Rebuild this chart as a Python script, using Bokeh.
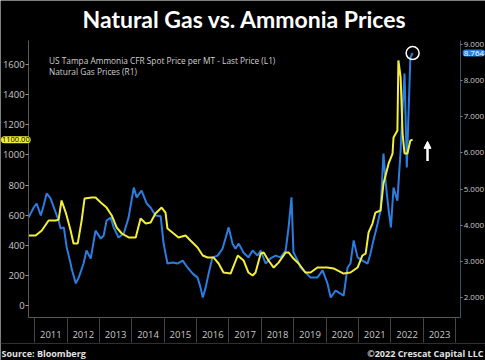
from bokeh.plotting import figure
from bokeh.models import (Range1d, LinearAxis, FixedTicker, NumeralTickFormatter, Label,
                          Legend, LegendItem, Arrow, NormalHead, Span)
from bokeh.embed import file_html
from bokeh.resources import INLINE

# ---------------- data ----------------
title_text = "Natural Gas vs. Ammonia Prices"
ammonia_label = "US Tampa Ammonia CFR Spot Price per MT - Last Price (L1)"
gas_label = "Natural Gas Prices (R1)"
source_text = "Source: Bloomberg"
copyright_text = "\u00a92022 Crescat Capital LLC"

years = list(range(2011, 2024))
year_labels = [str(y) for y in years]
left_ticks = [0, 200, 400, 600, 800, 1000, 1200, 1400, 1600]
right_ticks = [2, 3, 4, 5, 6, 7, 8, 9]

# Ammonia (USD per metric ton), time in decimal years
ammonia_t = [2010.81, 2011.03, 2011.22, 2011.43, 2011.65, 2011.74, 2011.83, 2011.96,
             2012.11, 2012.20, 2012.33, 2012.45, 2012.54, 2012.76, 2012.88, 2013.04,
             2013.22, 2013.38, 2013.53, 2013.69, 2013.90, 2014.12, 2014.27, 2014.43,
             2014.58, 2014.73, 2014.92, 2015.04, 2015.10, 2015.29, 2015.44, 2015.66,
             2015.81, 2016.03, 2016.19, 2016.34, 2016.52, 2016.68, 2016.83, 2017.05,
             2017.27, 2017.45, 2017.60, 2017.73, 2017.82, 2017.98, 2018.07, 2018.22,
             2018.38, 2018.53, 2018.75, 2018.84, 2018.99, 2019.15, 2019.36, 2019.52,
             2019.73, 2020.04, 2020.23, 2020.54, 2020.75, 2020.97, 2021.12, 2021.22,
             2021.31, 2021.43, 2021.52, 2021.68, 2021.77, 2021.93, 2022.05, 2022.08,
             2022.20, 2022.23, 2022.30, 2022.36, 2022.42, 2022.51, 2022.60, 2022.67]
ammonia_v = [465, 465, 498, 564, 564, 570, 697, 617,
             498, 412, 412, 564, 710, 717, 717, 684,
             650, 598, 518, 478, 452, 452, 577, 544,
             551, 611, 650, 617, 511, 478, 452, 465,
             432, 385, 332, 319, 319, 279, 219, 212,
             332, 299, 219, 199, 219, 345, 352, 299,
             252, 285, 352, 352, 312, 279, 219, 219,
             252, 252, 246, 212, 219, 252, 332, 345,
             485, 544, 617, 631, 810, 943, 1009, 1115,
             1162, 1627, 1514, 1142, 1009, 1009, 1096, 1100]

# Natural gas (USD per MMBtu)
gas_t = [2010.81, 2010.97, 2011.06, 2011.19, 2011.28, 2011.37, 2011.49, 2011.65,
         2011.74, 2011.80, 2011.90, 2011.99, 2012.11, 2012.14, 2012.27, 2012.36,
         2012.51, 2012.60, 2012.73, 2012.88, 2013.04, 2013.13, 2013.22, 2013.35,
         2013.44, 2013.59, 2013.75, 2013.90, 2014.06, 2014.15, 2014.30, 2014.46,
         2014.58, 2014.73, 2014.89, 2014.98, 2015.10, 2015.26, 2015.41, 2015.57,
         2015.72, 2015.88, 2016.03, 2016.12, 2016.19, 2016.28, 2016.37, 2016.49,
         2016.65, 2016.80, 2016.90, 2016.99, 2017.11, 2017.20, 2017.30, 2017.45,
         2017.60, 2017.73, 2017.88, 2017.98, 2018.13, 2018.28, 2018.44, 2018.59,
         2018.75, 2018.84, 2018.93, 2018.99, 2019.12, 2019.21, 2019.52, 2019.73,
         2019.89, 2020.04, 2020.14, 2020.29, 2020.44, 2020.54, 2020.66, 2020.75,
         2020.85, 2020.97, 2021.12, 2021.28, 2021.37, 2021.46, 2021.59, 2021.68,
         2021.77, 2021.84, 2021.93, 2022.00, 2022.08, 2022.20, 2022.30, 2022.36,
         2022.42, 2022.49, 2022.60, 2022.67]
gas_v = [4.21, 4.49, 4.60, 4.27, 4.55, 4.88, 4.74, 4.35,
         4.13, 3.91, 3.94, 3.38, 2.94, 2.80, 2.39, 2.55,
         2.94, 3.30, 3.08, 3.85, 3.63, 3.71, 4.13, 4.21,
         3.94, 3.66, 3.77, 4.21, 5.04, 4.77, 4.96, 4.60,
         4.49, 4.27, 4.25, 3.50, 2.94, 2.97, 2.94, 3.02,
         2.83, 2.66, 2.55, 2.28, 2.00, 2.28, 2.66, 3.11,
         3.16, 3.35, 3.66, 3.94, 3.49, 3.35, 3.49, 3.24,
         3.11, 3.30, 3.16, 3.30, 2.94, 3.08, 3.16, 3.11,
         3.30, 3.94, 4.77, 3.25, 3.02, 2.83, 2.55, 2.55,
         2.75, 2.39, 2.00, 2.19, 2.11, 2.05, 2.83, 2.94,
         3.58, 3.11, 3.02, 2.94, 3.22, 3.58, 4.05, 4.41,
         5.98, 5.15, 4.41, 3.94, 5.04, 4.68, 6.07, 7.26,
         8.20, 5.60, 8.64, 8.764]

# ---------------- layout / styling ----------------
YELLOW = "#f2ee3a"
BLUE = "#2b7de0"
TICK_TEXT = "#c8c8c8"
AXIS_COL = "#5a5a5a"
FONT = "Open Sans"

# plotting box (where the axes sit) in data units
BX0, BX1 = 2010.815, 2024.154
BY0, BY1 = -80, 1760
BG0, BG1 = 1.45, 9.11
# full canvas extent in data units (frame covers the whole canvas)
CX0, CX1 = 2009.945, 2024.92
CY0, CY1 = -365.1, 2024.9
CG0, CG1 = 0.257, 10.217

p = figure(width=485, height=360, output_backend="svg", toolbar_location=None,
           x_range=Range1d(CX0, CX1), y_range=Range1d(CY0, CY1),
           background_fill_color="black", border_fill_color="black",
           outline_line_color=None,
           min_border_left=0, min_border_right=0, min_border_top=0, min_border_bottom=0)
p.extra_y_ranges = {"ng": Range1d(CG0, CG1)}
p.grid.visible = False

# x axis: year labels centred between separator lines
xa = p.xaxis[0]
xa.fixed_location = BY0
xa.bounds = (BX0, BX1)
xa.ticker = FixedTicker(ticks=[y + 0.5 for y in years], minor_ticks=years + [years[-1] + 1])
xa.major_label_overrides = {y + 0.5: lab for y, lab in zip(years, year_labels)}
xa.major_tick_out = 0
xa.major_tick_in = 0
xa.major_tick_line_color = None
xa.minor_tick_out = 25
xa.minor_tick_in = 0
xa.minor_tick_line_color = "#444444"
xa.axis_line_color = AXIS_COL
xa.major_label_standoff = -12
xa.major_label_text_color = TICK_TEXT
xa.major_label_text_font_size = "9.5px"
xa.major_label_text_font = FONT

ya = p.yaxis[0]
ya.fixed_location = BX0
ya.bounds = (BY0, BY1)
ya.ticker = FixedTicker(ticks=left_ticks)
ya.axis_line_color = AXIS_COL
ya.major_tick_out = 3
ya.major_tick_in = 0
ya.minor_tick_out = 0
ya.minor_tick_in = 0
ya.major_tick_line_color = "#999999"
ya.major_label_standoff = 1
ya.major_label_text_color = TICK_TEXT
ya.major_label_text_font_size = "9.5px"
ya.major_label_text_font = FONT

ra = LinearAxis(y_range_name="ng", ticker=FixedTicker(ticks=right_ticks),
                formatter=NumeralTickFormatter(format="0.000"))
ra.fixed_location = BX1
ra.bounds = (BG0, BG1)
ra.axis_line_color = "#3d4d6a"
ra.major_tick_out = 2
ra.major_tick_in = 0
ra.minor_tick_out = 0
ra.minor_tick_in = 0
ra.major_tick_line_color = "#7a8aa8"
ra.major_label_standoff = 1
ra.major_label_text_color = TICK_TEXT
ra.major_label_text_font_size = "8px"
ra.major_label_text_font = FONT
p.add_layout(ra, "right")

# faint separator above the footer
p.add_layout(Span(location=-252, dimension="width", line_color="#333333", line_width=1))

# series
p.line(gas_t, gas_v, color=BLUE, line_width=2, y_range_name="ng")
p.line(ammonia_t, ammonia_v, color=YELLOW, line_width=2)

# circle marking the latest gas value
p.scatter([gas_t[-1]], [gas_v[-1]], y_range_name="ng", marker="circle", size=13,
          fill_alpha=0, line_color="white", line_width=1.5)

# legend with square swatches
r_y = p.quad(left=[], right=[], top=[], bottom=[], fill_color=YELLOW, line_color=None)
r_b = p.quad(left=[], right=[], top=[], bottom=[], fill_color=BLUE, line_color=None)
legend = Legend(items=[LegendItem(label=ammonia_label, renderers=[r_y]),
                       LegendItem(label=gas_label, renderers=[r_b])],
                location=(41, 283), margin=0, padding=0, spacing=0,
                background_fill_alpha=0, border_line_color=None,
                label_text_font_size="8.3px", label_text_color="#d0d0d0",
                label_text_font=FONT,
                glyph_width=6, glyph_height=6, label_height=10, label_standoff=2)
p.add_layout(legend)

# last-value tags
p.add_layout(Label(x=BX0, y=ammonia_v[-1], x_offset=2, text=f"{ammonia_v[-1]:.2f}",
                   text_align="right", text_baseline="middle", text_font_size="7.5px",
                   text_font=FONT, text_color="black",
                   background_fill_color=YELLOW, padding=1, border_radius=4))
p.add_layout(Label(x=BX1, y=gas_v[-1], y_range_name="ng", x_offset=2, text=f"{gas_v[-1]:.3f}",
                   text_align="left", text_baseline="middle", text_font_size="8px",
                   text_font=FONT, text_color="white",
                   background_fill_color=BLUE, padding=1, border_radius=3))

# up arrow
ARROW_X = 2023.13
p.add_layout(Arrow(end=NormalHead(size=7, fill_color="white", line_color="white"),
                   x_start=ARROW_X, y_start=960, x_end=ARROW_X, y_end=1090,
                   line_color="white", line_width=2.5))

# title and footer
p.add_layout(Label(x=(BX0 + BX1) / 2, y=1905, text=title_text,
                   text_align="center", text_baseline="middle",
                   text_font="Lato", text_font_style="bold", text_font_size="23px",
                   text_color="white"))
p.add_layout(Label(x=CX0, y=-319, x_offset=1, text=source_text,
                   text_align="left", text_baseline="middle",
                   text_font=FONT, text_font_style="bold", text_font_size="9px",
                   text_color="#e0e0e0"))
p.add_layout(Label(x=CX1, y=-319, x_offset=-2, text=copyright_text,
                   text_align="right", text_baseline="middle",
                   text_font=FONT, text_font_style="bold", text_font_size="9px",
                   text_color="#e0e0e0"))

open("out.html", "w").write(file_html(p, INLINE))
